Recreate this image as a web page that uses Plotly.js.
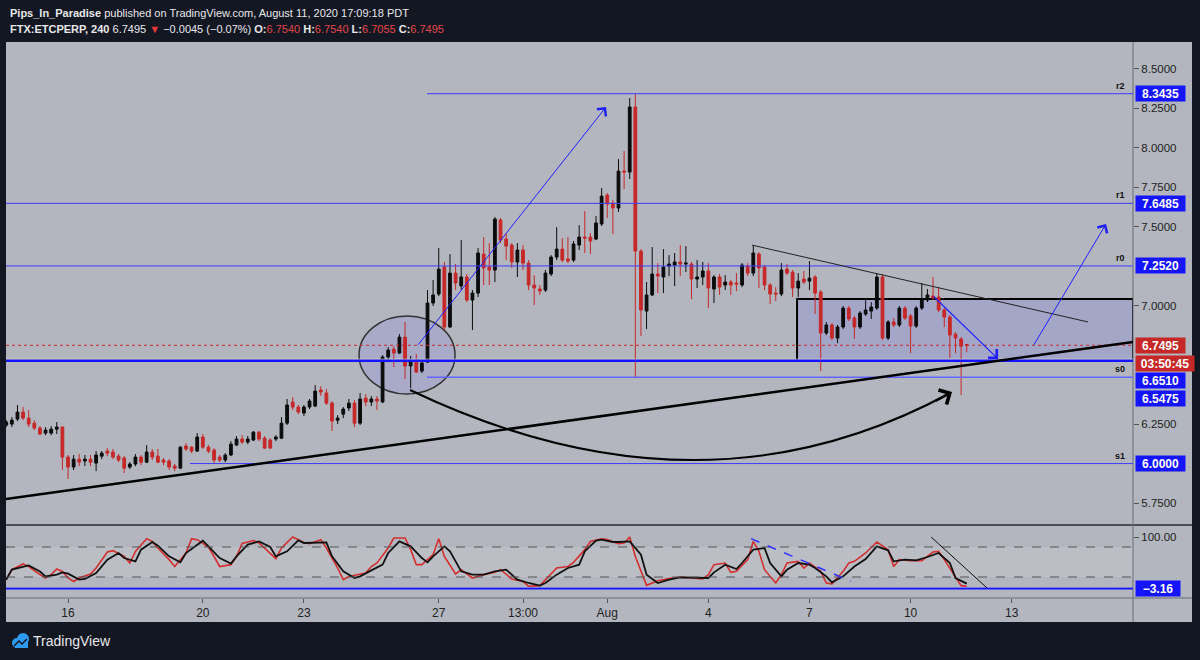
<!DOCTYPE html>
<html>
<head>
<meta charset="utf-8">
<script src="https://cdn.plot.ly/plotly-3.0.1.min.js"></script>
<style>
  html, body { margin: 0; padding: 0; background: #131722; }
  #chart { width: 1200px; height: 660px; }
</style>
</head>
<body>
<div id="chart"></div>
<script>
// =============================================================================
// FTX:ETCPERP 4h candles, Jul 14 04:00 -> Aug 11 16:00
// =============================================================================

var open = [6.244,6.250,6.282,6.326,6.288,6.256,6.225,6.193,6.193,6.218,
  6.231,6.041,5.978,6.028,6.016,6.028,6.003,6.047,6.079,6.073,
  6.047,6.035,5.978,5.997,6.041,6.009,6.073,6.047,6.022,6.016,
  5.984,5.971,6.111,6.104,6.079,6.168,6.104,6.085,6.041,6.022,
  6.054,6.117,6.155,6.136,6.149,6.199,6.161,6.149,6.155,6.161,
  6.256,6.390,6.358,6.320,6.358,6.364,6.466,6.447,6.383,6.275,
  6.313,6.352,6.383,6.256,6.415,6.390,6.409,6.390,6.675,6.725,
  6.700,6.801,6.618,6.656,6.586,6.643,7.017,7.074,7.245,6.865,
  7.207,7.125,7.182,7.036,7.080,7.327,7.245,7.226,7.543,7.422,
  7.384,7.277,7.353,7.270,7.131,7.106,7.099,7.201,7.308,7.359,
  7.296,7.289,7.384,7.435,7.435,7.422,7.518,7.701,7.651,7.619,
  7.853,7.847,8.259,7.346,6.966,7.068,7.201,7.182,7.251,7.258,
  7.277,7.264,7.264,7.169,7.182,7.220,7.106,7.182,7.131,7.150,
  7.144,7.131,7.251,7.207,7.327,7.245,7.131,7.080,7.074,7.232,
  7.213,7.112,7.169,7.156,7.182,7.087,6.827,6.878,6.795,6.865,
  6.985,6.922,6.865,6.947,6.966,6.985,7.182,6.795,6.897,6.878,
  6.985,6.935,6.871,6.985,7.036,7.061,7.055,6.973,6.928,6.820,
  6.789,6.754];

var high = [6.275,6.294,6.371,6.358,6.339,6.275,6.237,6.231,6.237,6.263,
  6.237,6.054,6.054,6.060,6.054,6.054,6.079,6.079,6.098,6.092,
  6.060,6.047,6.009,6.060,6.054,6.117,6.092,6.092,6.035,6.028,
  5.997,6.111,6.130,6.111,6.193,6.187,6.117,6.098,6.054,6.066,
  6.142,6.174,6.180,6.174,6.206,6.206,6.174,6.161,6.180,6.294,
  6.409,6.421,6.371,6.371,6.409,6.497,6.491,6.472,6.396,6.307,
  6.358,6.409,6.402,6.447,6.440,6.428,6.428,6.687,6.738,6.744,
  6.820,6.897,6.681,6.694,6.656,7.099,7.163,7.365,7.277,7.327,
  7.264,7.416,7.201,7.099,7.365,7.435,7.397,7.562,7.556,7.460,
  7.397,7.397,7.384,7.289,7.194,7.131,7.226,7.321,7.498,7.429,
  7.435,7.410,7.511,7.600,7.460,7.568,7.746,7.714,7.670,7.929,
  7.980,8.316,8.3435,7.359,7.150,7.372,7.270,7.359,7.321,7.334,
  7.384,7.378,7.277,7.289,7.277,7.270,7.194,7.201,7.194,7.163,
  7.207,7.270,7.270,7.384,7.340,7.258,7.144,7.118,7.270,7.264,
  7.226,7.207,7.220,7.283,7.194,7.099,6.897,6.890,6.878,6.998,
  6.998,6.935,6.966,7.049,7.023,7.207,7.201,6.909,6.922,6.998,
  6.998,6.947,6.998,7.144,7.106,7.182,7.118,6.985,6.941,6.833,
  6.801,6.754];

var low = [6.231,6.231,6.269,6.275,6.231,6.212,6.180,6.180,6.180,6.187,
  5.959,5.902,5.959,5.984,5.984,5.984,5.952,6.028,6.047,6.028,
  6.009,5.940,5.965,5.984,5.990,6.003,6.022,6.003,5.990,5.959,
  5.952,5.965,6.079,6.066,6.073,6.092,6.066,5.997,6.009,6.009,
  6.047,6.111,6.123,6.123,6.142,6.142,6.092,6.092,6.142,6.155,
  6.244,6.339,6.313,6.301,6.345,6.358,6.428,6.371,6.206,6.250,
  6.288,6.333,6.231,6.244,6.364,6.364,6.339,6.383,6.643,6.611,
  6.694,6.535,6.478,6.573,6.573,6.637,6.998,7.061,6.846,6.859,
  7.099,7.099,7.023,6.846,7.055,7.131,7.131,7.150,7.397,7.289,
  7.239,7.182,7.226,7.099,7.004,7.068,7.087,7.188,7.289,7.277,
  7.270,7.277,7.353,7.334,7.327,7.416,7.505,7.556,7.454,7.594,
  7.739,7.803,6.5475,6.808,6.852,7.061,7.080,7.080,7.188,7.125,
  7.188,7.213,7.042,7.112,7.131,6.985,7.017,7.068,7.099,7.068,
  7.093,7.118,7.188,7.188,7.112,7.099,7.011,7.030,7.061,7.194,
  7.055,7.055,7.137,7.099,6.947,6.586,6.814,6.782,6.763,6.852,
  6.903,6.789,6.852,6.935,6.916,6.973,6.782,6.782,6.865,6.865,
  6.909,6.700,6.859,6.973,7.023,7.036,6.960,6.865,6.668,6.700,
  6.434,6.7055];

var close = [6.263,6.275,6.326,6.288,6.250,6.225,6.187,6.212,6.218,6.231,
  6.041,5.978,6.028,6.009,6.028,6.009,6.054,6.066,6.066,6.041,
  6.022,5.971,5.997,6.041,6.009,6.073,6.041,6.009,6.009,5.978,
  5.971,6.104,6.092,6.079,6.168,6.104,6.079,6.022,6.022,6.054,
  6.123,6.155,6.136,6.155,6.199,6.155,6.098,6.098,6.168,6.256,
  6.371,6.358,6.326,6.358,6.396,6.459,6.453,6.383,6.269,6.288,
  6.345,6.383,6.256,6.409,6.390,6.409,6.396,6.675,6.719,6.700,
  6.801,6.618,6.649,6.580,6.637,7.017,7.068,7.232,6.865,7.207,
  7.144,7.182,7.036,7.080,7.334,7.239,7.226,7.549,7.416,7.378,
  7.277,7.353,7.270,7.131,7.112,7.093,7.207,7.308,7.359,7.289,
  7.283,7.391,7.435,7.429,7.410,7.524,7.695,7.644,7.619,7.853,
  7.847,8.259,7.346,6.973,7.068,7.201,7.188,7.245,7.264,7.277,
  7.264,7.270,7.169,7.182,7.220,7.112,7.182,7.118,7.150,7.131,
  7.137,7.258,7.207,7.334,7.239,7.131,7.074,7.074,7.226,7.207,
  7.112,7.156,7.150,7.175,7.080,6.827,6.878,6.795,6.865,6.985,
  6.916,6.865,6.954,6.973,6.992,7.182,6.795,6.897,6.878,6.985,
  6.922,6.871,6.985,7.036,7.068,7.049,6.973,6.928,6.814,6.795,
  6.744,6.7495];

// stochastic %K (red) and %D (black), bar index -> value
var kIdx = [0,1,3,4,6,7,8,9,10,11,12,13,15,16,18,19,21,22,23,25,26,27,29,30,32,33,34,36,37,38,
  40,41,42,44,45,47,48,49,51,53,54,56,57,59,60,61,63,64,65,66,68,69,71,72,73,74,76,77,78,80,
  81,83,85,87,88,90,92,93,95,96,98,100,101,103,104,106,107,109,110,111,112,114,116,118,120,122,124,125,126,128,
  129,130,132,133,134,135,137,138,139,141,142,143,145,146,147,149,150,151,153,155,157,158,159,161,163,165,166,167,169,170,171];
var kVal = [14.7,34.7,46,41,24.7,18,24.7,36,31,18,11,18,26,38,70,72.7,61,48,71,96.7,91,78,54.7,41,68,96.7,94.7,80,61,41,
  44.7,61,87,93,88,68,56.7,78,100,89,86.7,94.7,78,38,14.7,21,24.7,28,41,48,78,98,98,74.7,44.7,44.7,65,96.7,61,26,
  34.7,18,24.7,29.3,34.7,16,11.3,1.3,2.7,14.7,38,41,49.3,74.7,91,96.5,94.7,86.7,88,100,61,3.3,12.7,16.7,20,18,16,24.7,44.7,48,
  29.3,31.3,54.7,91.3,71.3,34.7,8,24.7,48,51.3,38,48,31.3,8,6,31.3,48,51.3,68,90,74.7,41,54.7,52.7,52.7,70,71.3,54.7,21.3,2.7,1.3];

var dIdx = [0,1,4,6,7,9,10,11,13,14,16,18,20,21,23,24,26,27,29,31,32,35,36,38,40,41,43,45,47,48,
  50,52,53,55,57,58,60,62,63,65,67,68,70,72,74,75,76,78,79,81,83,85,87,89,91,93,95,96,98,100,
  102,103,105,106,108,109,111,113,114,116,118,120,123,125,126,128,130,131,133,135,136,138,139,141,143,144,146,147,149,151,
  153,155,157,158,160,162,164,166,168,169,171];
var dVal = [14.7,34.7,43,31,21,24.7,29.3,26.7,14.7,16,28,54.7,68,58,51.3,74.7,90,82.7,61.3,49.3,68,92.7,81.3,58,46.7,61.3,84.7,91.3,80,61.3,
  71.3,93.3,88,88,89.3,61.3,31.3,18,21.3,33.3,44.7,68,91.3,81.3,58,49.3,61.3,81.3,71.3,31.3,24.7,24.7,31.3,34.7,14.7,8,2.7,8,24.7,38,
  44.7,71.3,92.7,94.7,90,90,91.3,64.7,24.7,8,14.7,19.3,18,18,29.3,44.7,36,48,74.7,78,48,21.3,34.7,48,44.7,38,21.3,9.3,21.3,41,
  56,81.3,73.3,51.3,54.7,53.3,60,68,48,18,6.7];

// horizontal levels
var levelNames = ["r2", "r1", "r0", "s0", "s1"];
var levelValues = [8.3435, 7.6485, 7.2520, 6.5475, 6.0000];
var pivotLine = 6.6510;
var lastPrice = 6.7495;
var stochLine = -3.16;

var priceTicks = [8.5, 8.25, 8.0, 7.75, 7.5, 7.0, 6.25, 5.75];
var tickDates = ["2020-07-16", "2020-07-20", "2020-07-23", "2020-07-27", "2020-07-29 12:00",
  "2020-08-01", "2020-08-04", "2020-08-07", "2020-08-10", "2020-08-13"];
var tickText = ["16", "20", "23", "27", "13:00", "Aug", "4", "7", "10", "13"];

// =============================================================================
// helpers
// =============================================================================

function fmt(ms) {
  return new Date(ms).toISOString().slice(0, 16).replace("T", " ");
}
function barTime(i) {
  return fmt(Date.UTC(2020, 6, 14, 4) + i * 4 * 3600e3);
}
function dayMs(d) {           // days after Jul 16 00:00
  return Date.UTC(2020, 6, 16) + d * 864e5;
}
// pixel -> paper (plot area is x 6..1133, y 42..598)
function px(x) { return (x - 6) / 1127; }
function py(y) { return (598 - y) / 556; }

var times = open.map(function (v, i) { return barTime(i); });

var FONT = '"Liberation Sans", Arial, sans-serif';
var NARROW = '"Liberation Sans Narrow", "Liberation Sans", sans-serif';
var BG = "#b3b6be";
var RED = "#c62828";
var BLUE = "#1414ff";
var xLeft = "2020-07-14 03:50";
var xRight = "2020-08-16 14:24";

// =============================================================================
// traces
// =============================================================================

var candles = {
  type: "candlestick",
  x: times, open: open, high: high, low: low, close: close,
  xaxis: "x", yaxis: "y",
  increasing: {line: {color: "#0b0b0b", width: 1}, fillcolor: "#0b0b0b"},
  decreasing: {line: {color: RED, width: 1}, fillcolor: RED},
  whiskerwidth: 0,
  hoverinfo: "skip"
};

var stochK = {
  type: "scatter", mode: "lines",
  x: kIdx.map(barTime), y: kVal,
  xaxis: "x", yaxis: "y2",
  line: {color: "#d32f2f", width: 1.6},
  hoverinfo: "skip"
};

var stochD = {
  type: "scatter", mode: "lines",
  x: dIdx.map(barTime), y: dVal,
  xaxis: "x", yaxis: "y2",
  line: {color: "#111111", width: 1.8},
  hoverinfo: "skip"
};

// =============================================================================
// drawings
// =============================================================================

var shapes = [
  // chart frame
  {type: "rect", xref: "paper", yref: "paper", x0: 0, x1: px(1192), y0: py(622), y1: 1,
   fillcolor: BG, line: {width: 0}, layer: "below"},
  // stoch band
  {type: "rect", xref: "x", yref: "y2", x0: xLeft, x1: xRight, y0: 20, y1: 80,
   fillcolor: "rgba(255,255,255,0.12)", line: {width: 0}, layer: "below"},
  {type: "line", xref: "paper", yref: "y2", x0: 0, x1: 1, y0: 80, y1: 80,
   line: {color: "#555", width: 1, dash: "dash"}},
  {type: "line", xref: "paper", yref: "y2", x0: 0, x1: 1, y0: 20, y1: 20,
   line: {color: "#555", width: 1, dash: "dash"}},
  // pane separators
  {type: "line", xref: "paper", yref: "paper", x0: 0, x1: px(1192), y0: py(525), y1: py(525),
   line: {color: "#4a4d57", width: 2}},
  {type: "line", xref: "paper", yref: "paper", x0: 0, x1: px(1192), y0: 0, y1: 0,
   line: {color: "#6a6d77", width: 1}},
  {type: "line", xref: "paper", yref: "paper", x0: 1, x1: 1, y0: py(622), y1: 1,
   line: {color: "#6a6d77", width: 1}},

  // consolidation box and ellipse
  {type: "rect", xref: "x", yref: "y", x0: "2020-08-06 15:10", x1: xRight, y0: 6.649, y1: 7.042,
   fillcolor: "rgba(140,140,215,0.38)", line: {color: "#000", width: 2}, layer: "below"},
  {type: "circle", xref: "x", yref: "y", x0: "2020-07-24 15:14", x1: "2020-07-27 11:37", y0: 6.440, y1: 6.935,
   fillcolor: "rgba(150,150,215,0.38)", line: {color: "#333", width: 1.5}, layer: "below"},

  // horizontal levels
  {type: "line", xref: "paper", yref: "y", x0: 0, x1: 1, y0: pivotLine + 0.010, y1: pivotLine + 0.010,
   line: {color: "rgba(232,226,190,0.9)", width: 1}},
  {type: "line", xref: "paper", yref: "y", x0: 0, x1: 1, y0: pivotLine, y1: pivotLine,
   line: {color: BLUE, width: 2.5}},
  {type: "line", xref: "paper", yref: "y", x0: 0, x1: 1, y0: lastPrice, y1: lastPrice,
   line: {color: RED, width: 1, dash: "dot"}},
  {type: "line", xref: "x", yref: "y", x0: "2020-07-26 15:40", x1: xRight, y0: levelValues[0], y1: levelValues[0],
   line: {color: "#3c3cff", width: 1}},
  {type: "line", xref: "paper", yref: "y", x0: 0, x1: 1, y0: levelValues[1], y1: levelValues[1],
   line: {color: "#3c3cff", width: 1}},
  {type: "line", xref: "paper", yref: "y", x0: 0, x1: 1, y0: levelValues[2], y1: levelValues[2],
   line: {color: "#3c3cff", width: 1}},
  {type: "line", xref: "x", yref: "y", x0: "2020-07-26 15:40", x1: xRight, y0: levelValues[3], y1: levelValues[3],
   line: {color: "#6464ff", width: 1.5}},
  {type: "line", xref: "x", yref: "y", x0: "2020-07-19 14:54", x1: xRight, y0: levelValues[4], y1: levelValues[4],
   line: {color: "#3c3cff", width: 1}},

  // trend lines
  {type: "line", xref: "x", yref: "y", x0: xLeft, x1: xRight, y0: 5.775, y1: 6.770,
   line: {color: "#000", width: 2.5}},
  {type: "line", xref: "x", yref: "y", x0: "2020-08-05 07:08", x1: "2020-08-15 06:24", y0: 7.384, y1: 6.897,
   line: {color: "#222", width: 1}},
  // curved arrow (quadratic, x in ms for date axis)
  {type: "path", xref: "x", yref: "y",
   path: "M" + dayMs(10.148) + "," + 6.466 + " Q" + dayMs(18.754) + "," + 5.588 + " " + dayMs(26.172) + "," + 6.447,
   line: {color: "#000", width: 2}},

  // stoch pane lines
  {type: "line", xref: "paper", yref: "y2", x0: 0, x1: 1, y0: stochLine + 2.2, y1: stochLine + 2.2,
   line: {color: "rgba(232,226,190,0.9)", width: 1}},
  {type: "line", xref: "paper", yref: "y2", x0: 0, x1: 1, y0: stochLine, y1: stochLine,
   line: {color: BLUE, width: 2}},
  {type: "line", xref: "x", yref: "y2", x0: "2020-08-05 06:26", x1: "2020-08-08 05:34", y0: 96.7, y1: 11.3,
   line: {color: "#3232ff", width: 1.5, dash: "dash"}},
  {type: "line", xref: "x", yref: "y2", x0: "2020-08-10 14:38", x1: "2020-08-12 06:29", y0: 100, y1: -2,
   line: {color: "#111", width: 1}},

  // TradingView logo
  {type: "circle", xref: "paper", yref: "paper", x0: px(12), x1: px(22), y0: py(648), y1: py(638),
   fillcolor: "#2e9bf0", line: {width: 0}},
  {type: "circle", xref: "paper", yref: "paper", x0: px(17), x1: px(29), y0: py(645), y1: py(633),
   fillcolor: "#2e9bf0", line: {width: 0}},
  {type: "rect", xref: "paper", yref: "paper", x0: px(15), x1: px(28), y0: py(648), y1: py(641),
   fillcolor: "#2e9bf0", line: {width: 0}},
  {type: "path", xref: "paper", yref: "paper",
   path: "M" + px(14) + "," + py(646) + " L" + px(19) + "," + py(641) + " L" + px(22) + "," + py(644) + " L" + px(27) + "," + py(639),
   line: {color: "#131722", width: 1.5}}
];

function arrow(tail, tip, color, width, size) {
  return {xref: "x", yref: "y", axref: "x", ayref: "y",
    x: tip[0], y: tip[1], ax: tail[0], ay: tail[1], text: "",
    showarrow: true, arrowhead: 4, arrowsize: size, arrowwidth: width, arrowcolor: color};
}

function priceLabel(yref, v, text, bg, shift, w) {
  return {xref: "paper", x: px(1135), xanchor: "left", yref: yref, y: v, yanchor: "middle",
    yshift: shift || 0, text: "<b>" + text + "</b>", showarrow: false,
    bgcolor: bg, width: w || 47, height: 13, borderpad: 1, align: "center",
    font: {family: FONT, size: 12, color: "#ffffff"}};
}

var annotations = [
  arrow(["2020-07-26 08:33", 6.744], ["2020-07-31 23:08", 8.259], "#2020ff", 1, 2.2),
  arrow(["2020-08-13 15:14", 6.744], ["2020-08-15 19:12", 7.518], "#2020ff", 1, 2.2),
  arrow(["2020-08-10 15:22", 7.068], ["2020-08-12 14:24", 6.662], "#2020ff", 1.2, 2),
  {xref: "x", yref: "y", x: fmt(dayMs(26.23)), y: 6.453, ax: -18, ay: 10, text: "",
   showarrow: true, arrowhead: 4, arrowsize: 1.6, arrowwidth: 2, arrowcolor: "#000"},

  priceLabel("y", levelValues[0], "8.3435", BLUE),
  priceLabel("y", levelValues[1], "7.6485", BLUE),
  priceLabel("y", levelValues[2], "7.2520", BLUE),
  priceLabel("y", lastPrice, "6.7495", RED),
  priceLabel("y", lastPrice, "03:50:45", RED, -18, 56),
  priceLabel("y", pivotLine, "6.6510", BLUE, -20),
  priceLabel("y", levelValues[3], "6.5475", BLUE, -21),
  priceLabel("y", levelValues[4], "6.0000", BLUE),
  priceLabel("y2", stochLine, "\u22123.16", BLUE, 0, 42),

  // header
  {xref: "paper", yref: "paper", x: px(8), y: py(13), xanchor: "left", yanchor: "middle", showarrow: false,
   text: "<b>Pips_In_Paradise</b> published on TradingView.com, August 11, 2020 17:09:18 PDT",
   font: {family: NARROW, size: 11, color: "#e8e8ea"}},
  {xref: "paper", yref: "paper", x: px(8), y: py(29), xanchor: "left", yanchor: "middle", showarrow: false,
   text: "<b>FTX:ETCPERP, 240</b> 6.7495 <span style='color:#e53935'>\u25BC</span> \u22120.0045 (\u22120.07%) " +
     "<b>O:</b><span style='color:#e04848'>6.7540</span> <b>H:</b><span style='color:#e04848'>6.7540</span> " +
     "<b>L:</b><span style='color:#e04848'>6.7055</span> <b>C:</b><span style='color:#e04848'>6.7495</span>",
   font: {family: NARROW, size: 11, color: "#e8e8ea"}},
  // footer
  {xref: "paper", yref: "paper", x: px(31), y: py(641), xanchor: "left", yanchor: "middle", showarrow: false,
   text: "TradingView", font: {family: NARROW, size: 14, color: "#e8e8ea"}}
];

levelNames.forEach(function (name, i) {
  annotations.push({xref: "paper", x: px(1127), xanchor: "right", yref: "y", y: levelValues[i],
    yanchor: "bottom", yshift: 1, showarrow: false, text: "<b>" + name + "</b>",
    font: {family: FONT, size: 9, color: "#111"}});
});

// =============================================================================
// layout
// =============================================================================

var layout = {
  width: 1200, height: 660,
  margin: {l: 6, r: 67, t: 42, b: 62, pad: 0},
  paper_bgcolor: "#131722",
  plot_bgcolor: BG,
  showlegend: false,
  dragmode: false,
  font: {family: FONT, size: 11, color: "#222"},
  xaxis: {
    type: "date", range: [xLeft, xRight], anchor: "y2",
    rangeslider: {visible: false},
    tickvals: tickDates, ticktext: tickText,
    ticks: "outside", ticklen: 4, tickcolor: "#555",
    showgrid: false, zeroline: false, showline: false,
    tickfont: {family: FONT, size: 12, color: "#222"}
  },
  yaxis: {
    domain: [py(524), 1], range: [5.617, 8.671], side: "right", anchor: "x",
    tickvals: priceTicks, tickformat: ".4f",
    ticks: "outside", ticklen: 5, tickcolor: "#555",
    showgrid: false, zeroline: false, showline: false,
    tickfont: {family: FONT, size: 11.5, color: "#222"}
  },
  yaxis2: {
    domain: [0, py(527)], range: [-22, 120], side: "right", anchor: "x",
    tickvals: [100], tickformat: ".2f",
    ticks: "outside", ticklen: 5, tickcolor: "#555",
    showgrid: false, zeroline: false, showline: false,
    tickfont: {family: FONT, size: 11.5, color: "#222"}
  },
  shapes: shapes,
  annotations: annotations
};

Plotly.newPlot("chart", [candles, stochK, stochD], layout, {staticPlot: true});
</script>
</body>
</html>
